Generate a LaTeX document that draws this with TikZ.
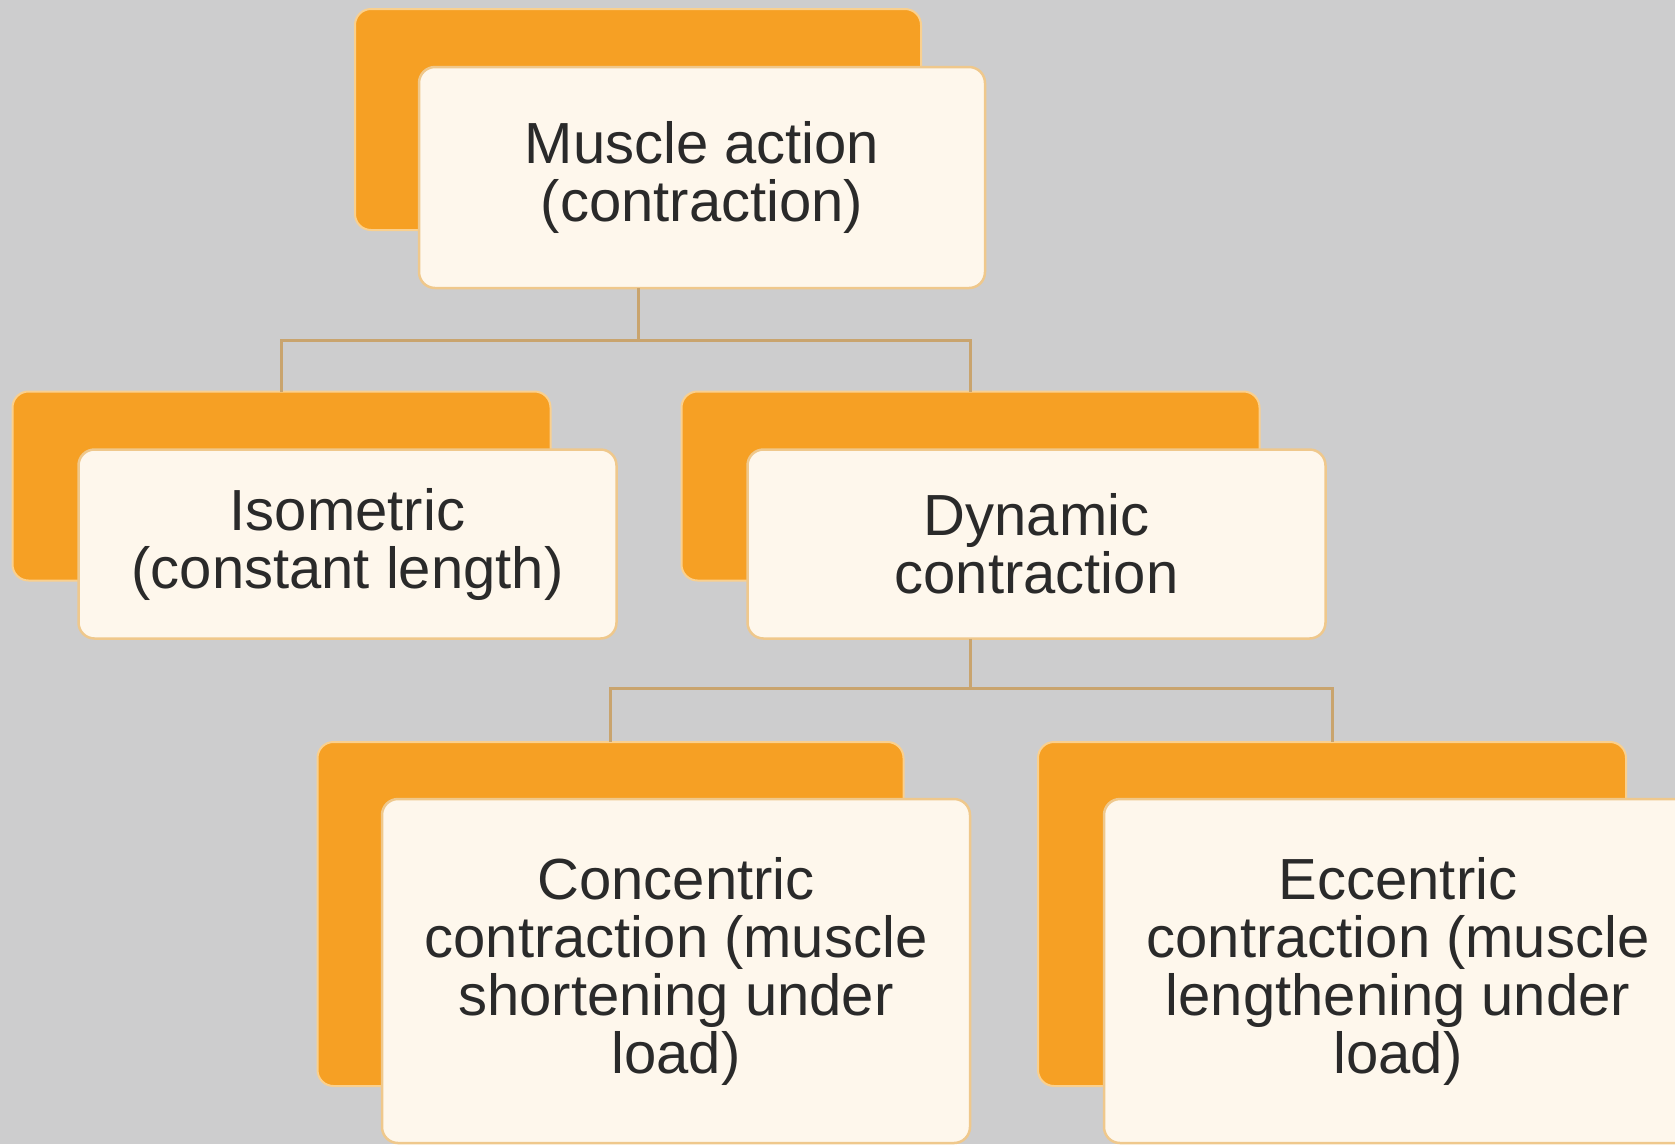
\documentclass[tikz,border=0pt]{standalone}
\usepackage{fontspec}
\setmainfont{Liberation Sans}
\definecolor{bgc}{HTML}{CDCDCE}
\definecolor{orng}{HTML}{F6A024}
\definecolor{orngedge}{HTML}{FAD08E}
\definecolor{cream}{HTML}{FEF7EC}
\definecolor{creamedge}{HTML}{EFC88C}
\definecolor{connc}{HTML}{C9A46E}
\definecolor{txt}{HTML}{2A2A2A}
\begin{document}
\begin{tikzpicture}[x=1pt,y=-1pt,
  back/.style={rectangle, rounded corners=16pt, fill=orng, draw=orngedge, line width=2pt, inner sep=0pt, outer sep=0pt},
  front/.style={rectangle, rounded corners=16pt, fill=cream, draw=creamedge, line width=2.5pt, inner sep=0pt, outer sep=0pt,
    align=center, text=txt, font=\fontsize{58}{58}\selectfont},
  conn/.style={draw=connc, line width=3pt}]
\clip (0,0) rectangle (1675,1144);
\useasboundingbox (0,0) rectangle (1675,1144);
\fill[bgc] (0,0) rectangle (1675,1144);

% top
\node[back, minimum width=566pt, minimum height=221pt] (topO) at (638,119.5) {};
\node[front, minimum width=566pt, minimum height=221pt] (topW) at (702,177.5) {Muscle action\\(contraction)};

% level 2
\node[back, minimum width=538pt, minimum height=189pt] (isoO) at (281.5,486) {};
\node[front, minimum width=538pt, minimum height=189pt] (isoW) at (347.5,544) {Isometric\\(constant length)};
\node[back, minimum width=578pt, minimum height=189pt] (dynO) at (970.5,486) {};
\node[front, minimum width=578pt, minimum height=189pt] (dynW) at (1036.5,544) {Dynamic\\contraction};

% level 3
\node[back, minimum width=586pt, minimum height=344pt] (concO) at (610.5,914) {};
\node[front, minimum width=588pt, minimum height=344pt] (concW) at (676,971) {Concentric\\contraction (muscle\\shortening under\\load)};
\node[back, minimum width=588pt, minimum height=344pt] (eccO) at (1332,914) {};
\node[front, minimum width=588pt, minimum height=344pt] (eccW) at (1398,971) {Eccentric\\contraction (muscle\\lengthening under\\load)};

% connectors
\draw[conn] (topO.south |- topW.south) -- ++(0,52) coordinate (j1) -| (isoO.north);
\draw[conn] (j1) -| (dynO.north);
\draw[conn] (dynO.south |- dynW.south) -- ++(0,50) coordinate (j2) -| (concO.north);
\draw[conn] (j2) -| (eccO.north);
\end{tikzpicture}
\end{document}
